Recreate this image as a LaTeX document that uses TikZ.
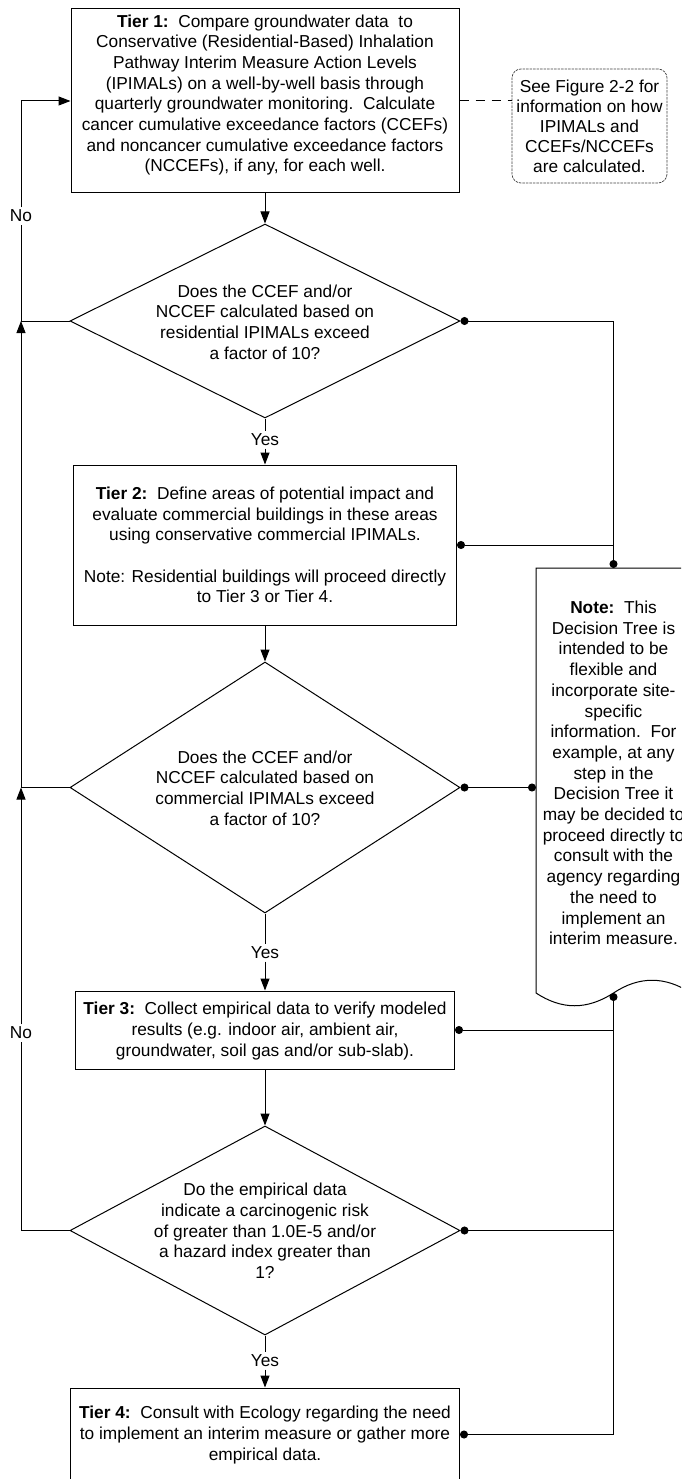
\documentclass[tikz,border=0pt]{standalone}
\usepackage{fontspec}
\setmainfont{Liberation Sans}
\usetikzlibrary{shapes.geometric,arrows.meta}
\begin{document}
\begin{tikzpicture}[x=1pt,y=-1pt,line width=1pt,
  box/.style={draw, rectangle, inner sep=0pt},
  dia/.style={draw, diamond, inner sep=0pt},
  txt/.style={align=center, inner sep=0pt, font=\fontsize{17.3}{20.7}\selectfont},
  lbl/.style={inner sep=2pt, font=\fontsize{17.3}{20.7}\selectfont},
  arr/.style={-{Triangle[length=12pt,width=9pt]}},
  dotline/.style={{Circle[length=8pt]}-},
  dotdot/.style={{Circle[length=8pt]}-{Circle[length=8pt]}},
  notebox/.style={draw=black!75, line width=0.7pt, dash pattern=on 2.5pt off 1pt, rounded corners=9pt, inner sep=0pt, align=center, font=\fontsize{17.3}{20}\selectfont},
  link/.style={dash pattern=on 9pt off 7pt}
]
\path[use as bounding box] (0,0) rectangle (681,1479);
\clip (0,0) rectangle (681,1479);

% boxes
\node[box, minimum width=388pt, minimum height=184pt] (t1) at (265,101) {};
\node[txt] at (265,95) {\textbf{Tier 1:}\ \ Compare groundwater data\ \ to\\
Conservative (Residential-Based) Inhalation\\
Pathway Interim Measure Action Levels\\
(IPIMALs) on a well-by-well basis through\\
quarterly groundwater monitoring.\ \ Calculate\\
cancer cumulative exceedance factors (CCEFs)\\
and noncancer cumulative exceedance factors\\
(NCCEFs), if any, for each well.};

\node[notebox, minimum width=155pt, minimum height=114pt] (n1) at (589.5,126) {See Figure 2-2 for\\ information on how\\ IPIMALs and\\ CCEFs/NCCEFs\\ are calculated.};

\node[dia, minimum width=390pt, minimum height=194pt] (d1) at (265,321) {};
\node[txt] at (265,322) {Does the CCEF and/or\\ NCCEF calculated based on\\ residential IPIMALs exceed\\ a factor of 10?};

\node[box, minimum width=383pt, minimum height=160pt] (t2) at (265,545) {};
\node[txt] at (265,545) {\textbf{Tier 2:}\ \ Define areas of potential impact and\\
evaluate commercial buildings in these areas\\
using conservative commercial IPIMALs.\\[20.7pt]
Note: Residential buildings will proceed directly\\
to Tier 3 or Tier 4.};

\node[dia, minimum width=390pt, minimum height=251pt] (d2) at (265,787.5) {};
\node[txt] at (265,788) {Does the CCEF and/or\\ NCCEF calculated based on\\ commercial IPIMALs exceed\\ a factor of 10?};

\node[box, minimum width=379pt, minimum height=78pt] (t3) at (265,1030) {};
\node[txt] at (265,1031) {\textbf{Tier 3:}\ \ Collect empirical data to verify modeled\\
results (e.g. indoor air, ambient air,\\
groundwater, soil gas and/or sub-slab).};

\node[dia, minimum width=390pt, minimum height=209pt] (d3) at (265,1230.5) {};
\node[txt] at (265,1231) {Do the empirical data\\ indicate a carcinogenic risk\\ of greater than 1.0E-5 and/or\\ a hazard index greater than\\ 1?};

\node[box, minimum width=389pt, minimum height=93pt] (t4) at (265,1434.5) {};
\node[txt] at (265,1435) {\textbf{Tier 4:}\ \ Consult with Ecology regarding the need\\
to implement an interim measure or gather more\\
empirical data.};

% note 2 (document shape)
\coordinate (n2t) at (613.5,568);
\coordinate (n2l) at (536,787.5);
\coordinate (n2b) at (613.5,993);
\draw (536,993) -- (536,568) -- (691,568) -- (691,993)
  .. controls (665,976) and (639,976) .. (n2b)
  .. controls (587,1010) and (562,1010) .. (536,993);
\node[txt] (n2) at (613.5,773) {\textbf{Note:}\ \ This\\ Decision Tree is\\ intended to be\\ flexible and\\ incorporate site-\\ specific\\ information.\ \ For\\ example, at any\\ step in the\\ Decision Tree it\\ may be decided to\\ proceed directly to\\ consult with the\\ agency regarding\\ the need to\\ implement an\\ interim measure.};

% labels
\node[lbl] (y1) at (265,440) {Yes};
\node[lbl] (y2) at (265,953) {Yes};
\node[lbl] (y3) at (265,1361) {Yes};
\node[lbl] (no1) at (21,216) {No};
\node[lbl] (no2) at (21,1033) {No};

% main flow
\draw[arr] (t1) -- (d1);
\draw (d1.south) -- (y1.north);
\draw[arr] (y1.south) -- (t2.north);
\draw[arr] (t2) -- (d2);
\draw (d2.south) -- (y2.north);
\draw[arr] (y2.south) -- (t3.north);
\draw[arr] (t3) -- (d3);
\draw (d3.south) -- (y3.north);
\draw[arr] (y3.south) -- (t4.north);

% "No" loops
\coordinate (j1) at (no1.south |- d1.west);
\coordinate (j2) at (no2.south |- d2.west);
\draw (d1.west) -| (no1.south);
\draw[arr] (no1.north) |- (t1.west);
\draw[arr] (d2.west) -| (j1);
\draw (d3.west) -| (no2.south);
\draw[arr] (no2.north) -- (j2);

% dashed link to note 1
\draw[link] (t1.east) -- (t1.east -| n1.west);

% right-hand connectors
\coordinate (c4) at (n2b |- t4.east);
\draw[dotdot] (d1.east) -| (n2t);
\draw[dotline] (t2.east) -- (t2.east -| n2t);
\draw[dotdot] (d2.east) -- (n2l);
\draw[dotdot] (n2b) -- (c4) -- (t4.east);
\draw[dotline] (t3.east) -- (t3.east -| n2b);
\draw[dotline] (d3.east) -- (d3.east -| n2b);
\end{tikzpicture}
\end{document}
